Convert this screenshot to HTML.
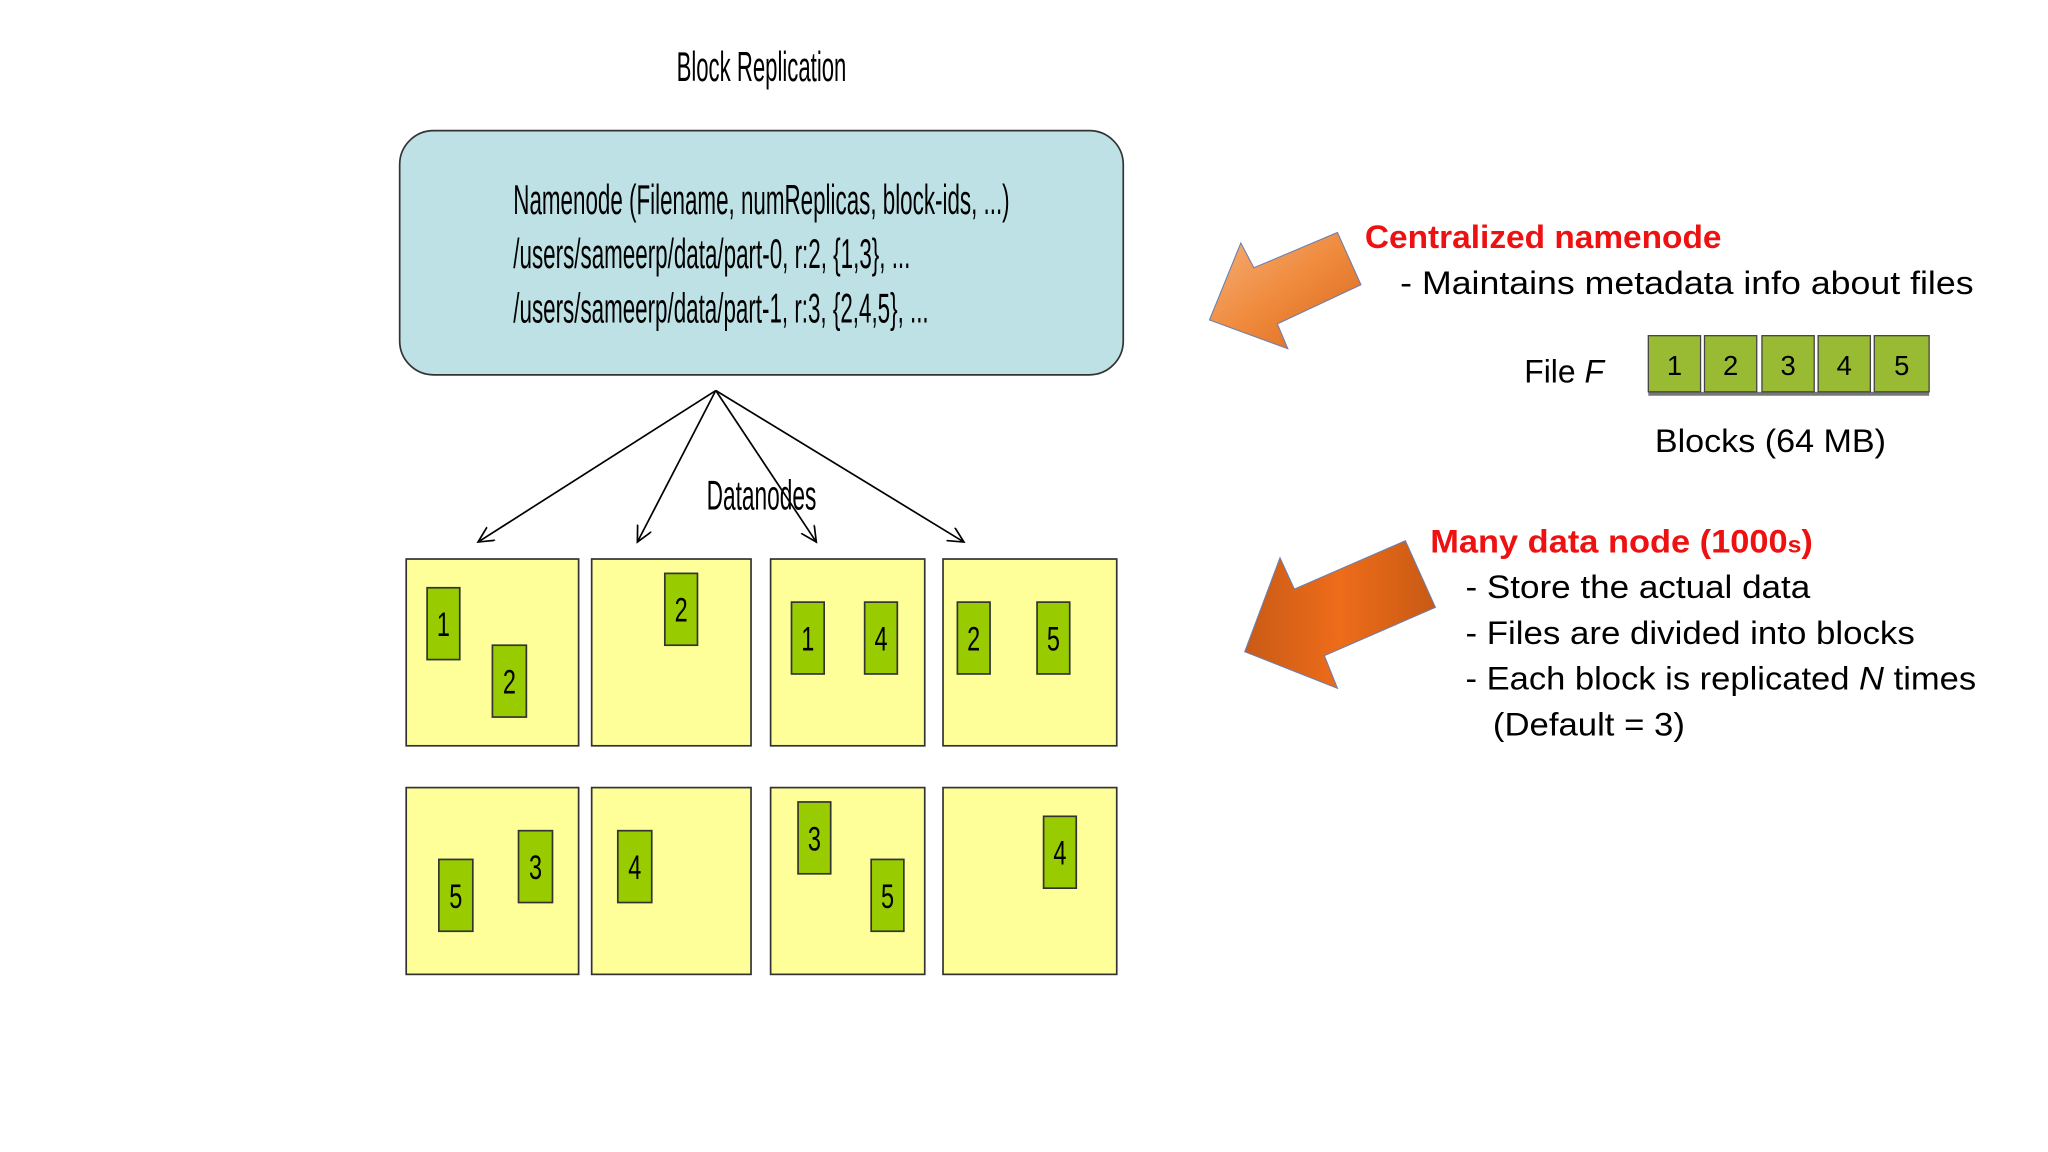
<!DOCTYPE html>
<html><head><meta charset="utf-8"><style>html,body{margin:0;padding:0;background:#fff}svg{display:block}</style></head>
<body>
<svg width="2048" height="1152" viewBox="0 0 1568 882" xmlns="http://www.w3.org/2000/svg" font-family="Liberation Sans, sans-serif">
<defs>
<linearGradient id="o1" x1="0" y1="0" x2="1" y2="1"><stop offset="0" stop-color="#f6b07a"/><stop offset="0.5" stop-color="#ef8a3c"/><stop offset="1" stop-color="#d8651c"/></linearGradient>
<linearGradient id="o2" x1="0" y1="0" x2="1" y2="0"><stop offset="0" stop-color="#c95a16"/><stop offset="0.5" stop-color="#ee6c1a"/><stop offset="1" stop-color="#c85a14"/></linearGradient>
<marker id="ah" markerWidth="14" markerHeight="14" refX="12" refY="6" orient="auto" markerUnits="userSpaceOnUse"><path d="M0,0 L12,6 L0,12" fill="none" stroke="#000" stroke-width="1.3"/></marker>
</defs>
<text x="583" y="62" font-size="32" text-anchor="middle" textLength="130" lengthAdjust="spacingAndGlyphs">Block Replication</text>
<rect x="306" y="100" width="554" height="187" rx="26" ry="26" fill="#bde1e4" stroke="#333" stroke-width="1.3"/>
<g font-size="32">
<text x="393" y="164" textLength="380" lengthAdjust="spacingAndGlyphs">Namenode (Filename, numReplicas, block-ids, ...)</text>
<text x="393" y="205" textLength="304" lengthAdjust="spacingAndGlyphs">/users/sameerp/data/part-0, r:2, {1,3}, ...</text>
<text x="393" y="247" textLength="318" lengthAdjust="spacingAndGlyphs">/users/sameerp/data/part-1, r:3, {2,4,5}, ...</text>
</g>
<g stroke="#000" stroke-width="1.3" fill="none" marker-end="url(#ah)">
<line x1="548" y1="299" x2="366" y2="415"/>
<line x1="548" y1="299" x2="488" y2="415"/>
<line x1="548" y1="299" x2="625" y2="415"/>
<line x1="548" y1="299" x2="738" y2="415"/>
</g>
<text x="583" y="390" font-size="32" text-anchor="middle" textLength="84" lengthAdjust="spacingAndGlyphs">Datanodes</text>
<g fill="#ffff99" stroke="#333" stroke-width="1.3">
<rect x="311" y="428" width="132" height="143"/><rect x="453" y="428" width="122" height="143"/><rect x="590" y="428" width="118" height="143"/><rect x="722" y="428" width="133" height="143"/>
<rect x="311" y="603" width="132" height="143"/><rect x="453" y="603" width="122" height="143"/><rect x="590" y="603" width="118" height="143"/><rect x="722" y="603" width="133" height="143"/>
</g>
<g fill="#99cc00" stroke="#333" stroke-width="1.3">
<rect x="327" y="450" width="25" height="55"/><rect x="377" y="494" width="26" height="55"/>
<rect x="509" y="439" width="25" height="55"/>
<rect x="606" y="461" width="25" height="55"/><rect x="662" y="461" width="25" height="55"/>
<rect x="733" y="461" width="25" height="55"/><rect x="794" y="461" width="25" height="55"/>
<rect x="336" y="658" width="26" height="55"/><rect x="397" y="636" width="26" height="55"/>
<rect x="473" y="636" width="26" height="55"/>
<rect x="611" y="614" width="25" height="55"/><rect x="667" y="658" width="25" height="55"/>
<rect x="799" y="625" width="25" height="55"/>
</g>
<g font-size="26" text-anchor="middle">
<text x="339.5" y="487" textLength="10" lengthAdjust="spacingAndGlyphs">1</text><text x="390" y="531" textLength="10" lengthAdjust="spacingAndGlyphs">2</text>
<text x="521.5" y="476" textLength="10" lengthAdjust="spacingAndGlyphs">2</text>
<text x="618.5" y="498" textLength="10" lengthAdjust="spacingAndGlyphs">1</text><text x="674.5" y="498" textLength="10" lengthAdjust="spacingAndGlyphs">4</text>
<text x="745.5" y="498" textLength="10" lengthAdjust="spacingAndGlyphs">2</text><text x="806.5" y="498" textLength="10" lengthAdjust="spacingAndGlyphs">5</text>
<text x="349" y="695" textLength="10" lengthAdjust="spacingAndGlyphs">5</text><text x="410" y="673" textLength="10" lengthAdjust="spacingAndGlyphs">3</text>
<text x="486" y="673" textLength="10" lengthAdjust="spacingAndGlyphs">4</text>
<text x="623.5" y="651" textLength="10" lengthAdjust="spacingAndGlyphs">3</text><text x="679.5" y="695" textLength="10" lengthAdjust="spacingAndGlyphs">5</text>
<text x="811.5" y="662" textLength="10" lengthAdjust="spacingAndGlyphs">4</text>
</g>
<polygon points="1024,178 1042,218 978,248 986,267 926,245 950,186 960,205" fill="url(#o1)" stroke="#6a7fae" stroke-width="0.8"/>
<polygon points="1076,414 1099,465 1014,502 1024,527 953,499 980,427 991,451" fill="url(#o2)" stroke="#6a7fae" stroke-width="0.8"/>
<text x="1045" y="190" font-size="25" font-weight="bold" fill="#ee1111" textLength="273" lengthAdjust="spacingAndGlyphs">Centralized namenode</text>
<text x="1072" y="225" font-size="25" textLength="439" lengthAdjust="spacingAndGlyphs">- Maintains metadata info about files</text>
<text x="1167" y="293" font-size="25" textLength="61" lengthAdjust="spacingAndGlyphs">File <tspan font-style="italic">F</tspan></text>
<rect x="1262" y="300" width="215" height="3" fill="#777"/>
<g fill="#99bb33" stroke="#444" stroke-width="1">
<rect x="1262" y="257" width="40" height="43"/><rect x="1305" y="257" width="40" height="43"/><rect x="1349" y="257" width="40" height="43"/><rect x="1392" y="257" width="40" height="43"/><rect x="1435" y="257" width="42" height="43"/>
</g>
<g font-size="21" text-anchor="middle">
<text x="1282" y="287">1</text><text x="1325" y="287">2</text><text x="1369" y="287">3</text><text x="1412" y="287">4</text><text x="1456" y="287">5</text>
</g>
<text x="1267" y="346" font-size="25" textLength="177" lengthAdjust="spacingAndGlyphs">Blocks (64 MB)</text>
<text x="1095" y="423" font-size="25" font-weight="bold" fill="#ee1111" textLength="293" lengthAdjust="spacingAndGlyphs">Many data node (1000<tspan font-size="18">s</tspan>)</text>
<g font-size="25">
<text x="1122" y="458" textLength="264" lengthAdjust="spacingAndGlyphs">- Store the actual data</text>
<text x="1122" y="493" textLength="344" lengthAdjust="spacingAndGlyphs">- Files are divided into blocks</text>
<text x="1122" y="528" textLength="391" lengthAdjust="spacingAndGlyphs">- Each block is replicated <tspan font-style="italic">N</tspan> times</text>
<text x="1143" y="563" textLength="147" lengthAdjust="spacingAndGlyphs">(Default = 3)</text>
</g>
</svg>
</body></html>
